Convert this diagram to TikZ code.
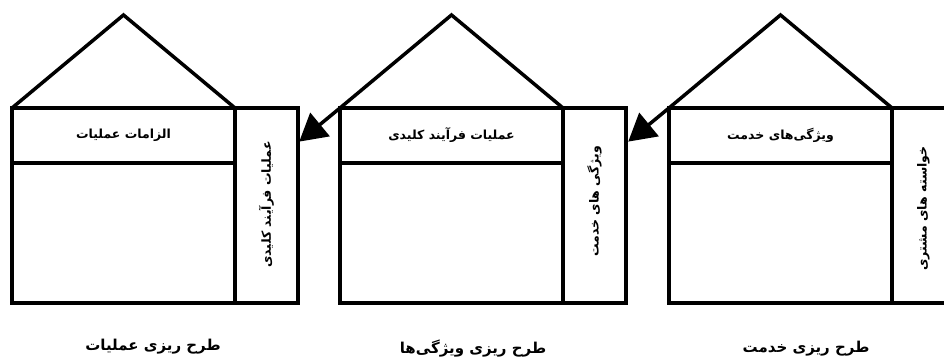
\documentclass[tikz,border=0pt]{standalone}
\usepackage{fontspec}
\TeXXeTstate=1
\newfontfamily\arabicfont[Script=Arabic]{DejaVu Sans}
\usetikzlibrary{arrows.meta,calc}
\newcommand{\fa}[1]{{\arabicfont\bfseries\beginR #1\endR}}
\begin{document}
\begin{tikzpicture}[x=1pt,y=-1pt,line width=3.5pt,
  mainbox/.style={draw,line width=3.5pt,rectangle,minimum width=223pt,minimum height=195pt,inner sep=0pt,outer sep=0pt,anchor=north west},
  stripbox/.style={draw,line width=3.5pt,rectangle,minimum width=223pt,minimum height=55pt,inner sep=0pt,outer sep=0pt,anchor=north west,font=\fontsize{12.5}{14}\selectfont},
  sidebox/.style={draw,line width=3.5pt,rectangle,minimum width=63pt,minimum height=195pt,inner sep=0pt,outer sep=0pt,anchor=north west},
  sidetext/.style={rotate=90,inner sep=0pt,font=\fontsize{12.5}{14}\selectfont},
  caption/.style={inner sep=0pt,font=\fontsize{15}{17}\selectfont},
  flow/.style={line width=3.5pt,-{Triangle[length=27pt,width=30pt]},shorten >=-1pt,fill=black}]
\useasboundingbox (0,0) rectangle (944,358);
% house 1
\node[mainbox] (m1) at (12,108) {};
\node[stripbox] (t1) at (m1.north west) {\fa{الزامات عملیات}};
\node[sidebox] (s1) at (m1.north east) {};
\node[sidetext] (v1) at ($(s1.center)+(0,-1)$) {\fa{عملیات فرآیند کلیدی}};
\coordinate (r1) at ($(m1.north)+(0,-93)$);
\draw[line join=miter] (m1.north west) -- (r1) -- (m1.north east);
\node[caption] (c1) at (153,347) {\fa{طرح ریزی عملیات}};
% house 2
\node[mainbox] (m2) at (340,108) {};
\node[stripbox] (t2) at (m2.north west) {\fa{عملیات فرآیند کلیدی}};
\node[sidebox] (s2) at (m2.north east) {};
\node[sidetext] (v2) at ($(s2.center)+(0,-4)$) {\fa{ویژگی های خدمت}};
\coordinate (r2) at ($(m2.north)+(0,-93)$);
\draw[line join=miter] (m2.north west) -- (r2) -- (m2.north east);
\node[caption] (c2) at (473,349) {\fa{طرح ریزی ویژگی‌ها}};
% house 3
\node[mainbox] (m3) at (669,108) {};
\node[stripbox] (t3) at (m3.north west) {\fa{ویژگی‌های خدمت}};
\node[sidebox] (s3) at (m3.north east) {};
\node[sidetext] (v3) at ($(s3.center)+(0,3)$) {\fa{خواسته های مشتری}};
\coordinate (r3) at ($(m3.north)+(0,-93)$);
\draw[line join=miter] (m3.north west) -- (r3) -- (m3.north east);
\node[caption] (c3) at (806,349) {\fa{طرح ریزی خدمت}};
% arrows
\coordinate (a1) at ($(s1.north east)+(2,33)$);
\coordinate (a2) at ($(s2.north east)+(3,33)$);
\draw[flow] (m2.north west) -- (a1);
\draw[flow] (m3.north west) -- (a2);
\end{tikzpicture}
\end{document}
